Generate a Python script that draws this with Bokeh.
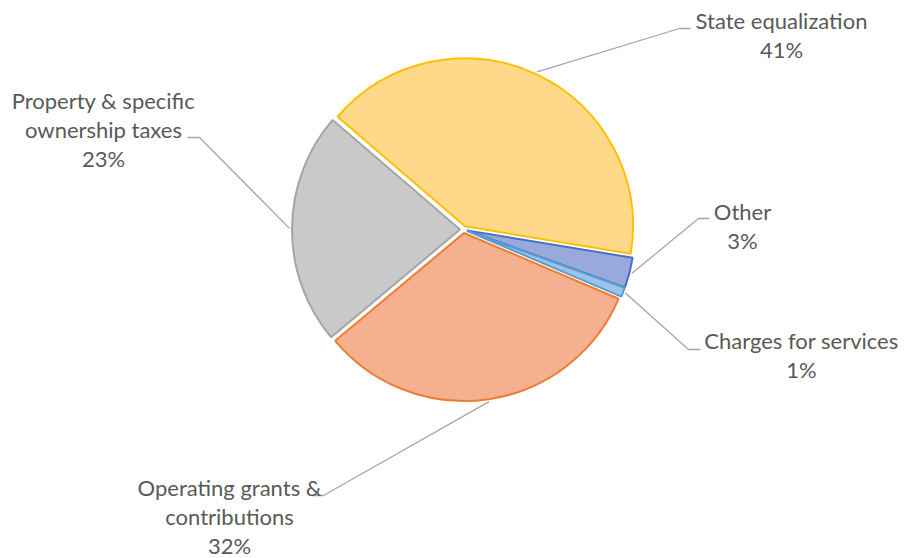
import math
from bokeh.plotting import figure
from bokeh.models import Range1d, ColumnDataSource
from bokeh.core.properties import value
from bokeh.embed import file_html
from bokeh.resources import INLINE

# ---- data (clockwise order) ----
categories = ["State equalization", "Other", "Charges for services",
              "Operating grants & contributions", "Property & specific ownership taxes"]
shares = [41.3, 2.9, 0.9, 32.5, 22.4]
pct_labels = ["41%", "3%", "1%", "32%", "23%"]
label_lines = [["State equalization"], ["Other"], ["Charges for services"],
               ["Operating grants &", "contributions"], ["Property & specific", "ownership taxes"]]
fill_colors = ["#FFD98A", "#9AA9DC", "#9DC3E6", "#F5B08F", "#C9C9C9"]
line_colors = ["#FFC000", "#4472C4", "#5B9BD5", "#ED7D31", "#A5A5A5"]

# ---- layout constants (picture pixel coords, y measured downward) ----
W, H = 904, 558
CX, CY = 463, 229
R = 168
EXPLODE = 3.5
START_DEG = 139.3
# label anchors: (elbow x, elbow y, end x, text center x, first baseline y)
anchors = [
    (679, 28, 690, 781, 28),
    (698, 218, 709, 742, 219),
    (688, 349, 700, 801, 348),
    (323, 495, 312, 229, 495),
    (199, 137, 187, 103, 108),
]
LINE_H = 28.8
TEXT_SHIFT = -8

def Y(py):
    return H - py

p = figure(width=W, height=H, output_backend="svg", toolbar_location=None,
           x_range=Range1d(0, W), y_range=Range1d(0, H),
           min_border=0, outline_line_color=None)
p.axis.visible = False
p.grid.visible = False
p.background_fill_color = "white"

total = sum(shares)
cur = START_DEG
for i, s in enumerate(shares):
    span = s / total * 360.0
    a0 = cur
    a1 = cur - span
    mid = math.radians((a0 + a1) / 2)
    cx = CX + EXPLODE * math.cos(mid)
    cy = Y(CY) + EXPLODE * math.sin(mid)
    p.wedge(x=[cx], y=[cy], radius=R, start_angle=[math.radians(a1)],
            end_angle=[math.radians(a0)], fill_color=fill_colors[i],
            line_color=line_colors[i], line_width=2)
    # leader line
    rs = R + EXPLODE + 2.5
    sx = CX + rs * math.cos(mid)
    sy = Y(CY) + rs * math.sin(mid)
    ex, ey, tx, lcx, bl = anchors[i]
    p.line(x=[sx, ex, tx], y=[sy, Y(ey), Y(ey)], line_color="#A6A6A6", line_width=1.3)
    cur = a1

# labels
xs, ys, ts = [], [], []
for i in range(len(shares)):
    ex, ey, tx, lcx, bl = anchors[i]
    lines = label_lines[i] + [pct_labels[i]]
    for k, t in enumerate(lines):
        xs.append(lcx)
        ys.append(Y(bl + TEXT_SHIFT + k * LINE_H))
        ts.append(t)
src = ColumnDataSource(dict(x=xs, y=ys, t=ts))
p.text(x="x", y="y", text="t", source=src, text_align="center", text_baseline="alphabetic",
       text_font=value("Lato"), text_font_size="22px", text_color="#595959")

open("out.html", "w").write(file_html(p, INLINE))
